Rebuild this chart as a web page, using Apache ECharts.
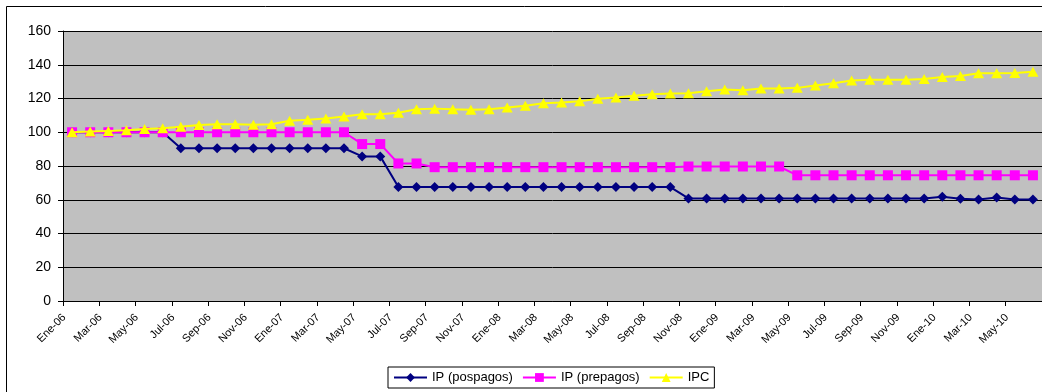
<!DOCTYPE html>
<html>
<head>
<meta charset="utf-8">
<script src="https://cdn.jsdelivr.net/npm/echarts@6/dist/echarts.min.js"></script>
<style>
html,body{margin:0;padding:0;background:#fff;}
#chart{width:1042px;height:392px;}
</style>
</head>
<body>
<div id="chart"></div>
<script>
const categories = [
  'Ene-06','Feb-06','Mar-06','Abr-06','May-06','Jun-06','Jul-06','Ago-06','Sep-06','Oct-06','Nov-06','Dic-06',
  'Ene-07','Feb-07','Mar-07','Abr-07','May-07','Jun-07','Jul-07','Ago-07','Sep-07','Oct-07','Nov-07','Dic-07',
  'Ene-08','Feb-08','Mar-08','Abr-08','May-08','Jun-08','Jul-08','Ago-08','Sep-08','Oct-08','Nov-08','Dic-08',
  'Ene-09','Feb-09','Mar-09','Abr-09','May-09','Jun-09','Jul-09','Ago-09','Sep-09','Oct-09','Nov-09','Dic-09',
  'Ene-10','Feb-10','Mar-10','Abr-10','May-10','Jun-10'
];
const ipPospagos = [
  100,100,100,100,100,100,90.5,90.5,90.5,90.5,90.5,90.5,
  90.5,90.5,90.5,90.5,85.7,85.7,67.5,67.5,67.5,67.5,67.5,67.5,
  67.5,67.5,67.5,67.5,67.5,67.5,67.5,67.5,67.5,67.5,60.8,60.8,
  60.8,60.8,60.8,60.8,60.8,60.8,60.8,60.8,60.8,60.8,60.8,60.8,
  61.8,60.6,60.2,61.4,60.2,60.2
];
const ipPrepagos = [
  100,100,100,100,100,100,100,100,100,100,100,100,
  100,100,100,100,93,93,81.5,81.5,79.3,79.3,79.3,79.3,
  79.3,79.3,79.3,79.3,79.3,79.3,79.3,79.3,79.3,79.3,79.7,79.7,
  79.7,79.7,79.7,79.7,74.5,74.5,74.5,74.5,74.5,74.5,74.5,74.5,
  74.5,74.5,74.5,74.5,74.5,74.5
];
const ipc = [
  100,100.4,100.8,101.2,101.9,102.3,103.2,104.3,104.7,104.7,104.5,104.7,
  106.8,107.4,108.2,109.4,110.6,110.6,111.5,113.6,114,113.6,113.4,113.6,
  114.7,115.7,117.2,117.6,118.3,119.9,120.6,121.6,122.5,122.9,123.1,124.3,
  125.3,124.9,125.9,125.9,126.3,127.7,129.1,130.6,131.1,131.1,131.1,131.6,
  132.8,133.4,135,135,135.1,135.8
];
const seriesNames = ['IP (pospagos)','IP (prepagos)','IPC'];
const yTicks = {min:0, max:160, interval:20};

const FONT = '"Liberation Sans", Arial, sans-serif';
const chart = echarts.init(document.getElementById('chart'), null, {renderer:'canvas'});
chart.setOption({
  animation:false,
  backgroundColor:'#fff',
  textStyle:{fontFamily:FONT},
  graphic:[{
    type:'rect', silent:true, z:-1,
    shape:{x:6.5, y:6.5, width:1200, height:600},
    style:{fill:'none', stroke:'#000', lineWidth:1}
  }],
  grid:{left:63, right:0, top:31, bottom:91, show:true, backgroundColor:'#C0C0C0', borderWidth:0},
  legend:{
    left:388, top:367,
    padding:[4,5,4,5],
    itemGap:9, itemWidth:33, itemHeight:11,
    borderColor:'#000', borderWidth:1,
    textStyle:{fontFamily:FONT, fontSize:13, color:'#000'},
    data:seriesNames
  },
  xAxis:{
    type:'category', data:categories, boundaryGap:true,
    axisLine:{lineStyle:{color:'#000', width:1}},
    axisTick:{show:true, interval:1, length:5, lineStyle:{color:'#000'}},
    axisLabel:{interval:1, rotate:45, fontSize:11, color:'#000', fontFamily:FONT, margin:7, padding:[0,11,0,0]},
    splitLine:{show:false}
  },
  yAxis:{
    type:'value', min:yTicks.min, max:yTicks.max, interval:yTicks.interval,
    axisLine:{show:true, lineStyle:{color:'#000', width:1}},
    axisTick:{show:true, length:5, lineStyle:{color:'#000'}},
    axisLabel:{fontSize:14, color:'#000', fontFamily:FONT, margin:12},
    splitLine:{show:true, lineStyle:{color:'#000', width:1}}
  },
  series:[
    {name:seriesNames[0], type:'line', data:ipPospagos, symbol:'diamond', symbolSize:10,
     showAllSymbol:true, color:'#000080', lineStyle:{width:2, color:'#000080'},
     itemStyle:{color:'#000080'}, z:2},
    {name:seriesNames[1], type:'line', data:ipPrepagos, symbol:'rect', symbolSize:10,
     showAllSymbol:true, color:'#FF00FF', lineStyle:{width:2, color:'#FF00FF'},
     itemStyle:{color:'#FF00FF'}, z:3},
    {name:seriesNames[2], type:'line', data:ipc, symbol:'triangle', symbolSize:[11,10],
     showAllSymbol:true, color:'#FFFF00', lineStyle:{width:2, color:'#FFFF00'},
     itemStyle:{color:'#FFFF00'}, z:4}
  ]
});
</script>
</body>
</html>
